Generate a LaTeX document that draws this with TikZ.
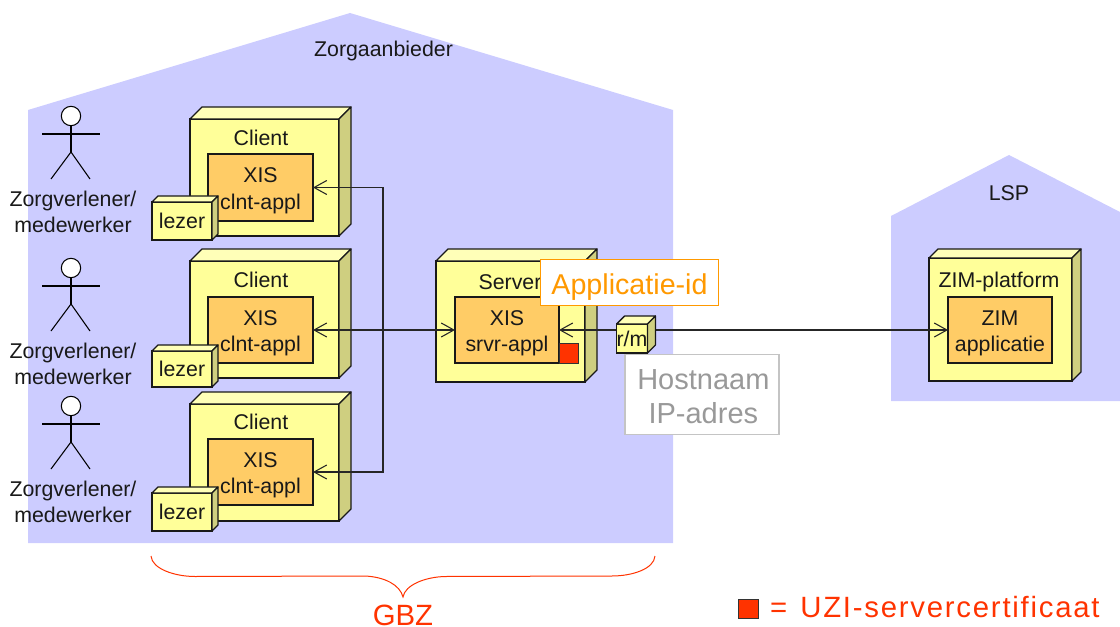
\documentclass[tikz,border=0pt]{standalone}
\usepackage{fontspec}
\setmainfont{Liberation Sans}
\newfontfamily\spacedfont[LetterSpace=6]{Liberation Sans}
\usetikzlibrary{calc,arrows.meta}
\definecolor{house}{HTML}{CCCCFF}
\definecolor{nodefill}{HTML}{FFFF99}
\definecolor{nodetop}{HTML}{FFFFB8}
\definecolor{nodeside}{HTML}{CFCF80}
\definecolor{appfill}{HTML}{FFCC66}
\definecolor{certred}{HTML}{FF3300}
\definecolor{idorange}{HTML}{FF9900}
\definecolor{hostgray}{HTML}{999999}
\definecolor{hostline}{HTML}{C4C4C4}
\newcommand{\drop}[1]{\rule{0pt}{#1}}
\tikzset{
  x=0.75pt,y=-0.75pt,
  every node/.style={inner sep=0pt,outer sep=0pt,align=center},
  body/.style={font=\fontsize{16}{20}\selectfont,text=black!90},
  housebox/.style={fill=house,draw=none},
  frontface/.style={draw=black!90,line width=0.95pt,fill=nodefill,body},
  topface/.style={draw=black!90,line width=0.95pt,fill=nodetop,line join=round},
  sideface/.style={draw=black!90,line width=0.95pt,fill=nodeside,line join=round},
  appbox/.style={draw=black!90,line width=0.95pt,fill=appfill,body},
  link/.style={draw=black!85,line width=0.95pt},
  openbarb/.tip={Straight Barb[length=9.5pt,width=10.5pt,line width=0.8pt]},
  actorline/.style={draw=black,line width=0.8pt},
  idbox/.style={draw=idorange,fill=white,line width=0.9pt,text=idorange,font=\fontsize{21.5}{26}\selectfont},
  hostbox/.style={draw=hostline,fill=white,line width=0.9pt,text=hostgray,font=\fontsize{21.75}{25}\selectfont},
  certbox/.style={fill=certred,draw=black!80,line width=0.7pt},
  redtext/.style={text=certred,font=\fontsize{22}{26}\selectfont},
  bracket/.style={draw=certred,line width=0.75pt}
}
% name, x1, y1, x2, y2, depth, text
\newcommand{\cubebox}[7]{%
  \pgfmathsetmacro{\cw}{(#4-#2)*0.75}%
  \pgfmathsetmacro{\ch}{(#5-#3)*0.75}%
  \node[frontface,minimum width=\cw pt,minimum height=\ch pt] (#1) at ({(#2+#4)/2},{(#3+#5)/2}) {#7};
  \draw[topface] (#1.north west) -- ($(#1.north west)+(#6,-#6)$) -- ($(#1.north east)+(#6,-#6)$) -- (#1.north east) -- cycle;
  \draw[sideface] (#1.north east) -- ($(#1.north east)+(#6,-#6)$) -- ($(#1.south east)+(#6,-#6)$) -- (#1.south east) -- cycle;
}
% name, x1, y1, x2, y2, text
\newcommand{\appbox}[6]{%
  \pgfmathsetmacro{\cw}{(#4-#2)*0.75}%
  \pgfmathsetmacro{\ch}{(#5-#3)*0.75}%
  \node[appbox,minimum width=\cw pt,minimum height=\ch pt] (#1) at ({(#2+#4)/2},{(#3+#5)/2}) {\drop{16pt}#6};
}
% name, head-centre y
\newcommand{\actor}[2]{%
  \node[draw=black,fill=white,line width=0.8pt,circle,minimum size=14.5pt] (#1) at (71,#2) {};
  \coordinate (#1hip) at (71,#2+36);
  \coordinate (#1arm) at (71,#2+18);
  \draw[actorline] (#1.south) -- (#1hip);
  \draw[actorline] ($(#1arm)+(-29,0)$) -- ($(#1arm)+(29,0)$);
  \draw[actorline] ($(#1hip)+(-20,27)$) -- (#1hip) -- ($(#1hip)+(19,27)$);
}
\begin{document}
\begin{tikzpicture}
\useasboundingbox (0,0) rectangle (1120,627);
% houses
\path[housebox] (28,110) -- (350,13) -- (673,110) -- (673,543) -- (28,543) -- cycle;
\path[housebox] (891,216) -- (1009,155) -- (1120,212) -- (1120,401) -- (891,401) -- cycle;
\node[body] (zorg) at (383.5,51) {Zorgaanbieder};
\node[body] (lsp) at (1009,193) {LSP};
% actors
\actor{a1}{116}
\actor{a2}{268}
\actor{a3}{406}
\node[body] (a1t) at (73,212) {Zorgverlener/\\medewerker};
\node[body] (a2t) at (73,364) {Zorgverlener/\\medewerker};
\node[body] (a3t) at (73,502) {Zorgverlener/\\medewerker};
% clients
\cubebox{c1}{190}{119}{339}{236}{12}{}
\node[body] (c1t) at (261,138) {Client};
\appbox{c1a}{208}{154}{313}{221}{XIS\\clnt-appl}
\cubebox{l1}{152}{202}{212}{240}{6}{lezer}
\cubebox{c2}{190}{261}{339}{378}{12}{}
\node[body] (c2t) at (261,280) {Client};
\appbox{c2a}{208}{297}{313}{363}{XIS\\clnt-appl}
\cubebox{l2}{152}{351}{212}{387}{6}{lezer}
\cubebox{c3}{190}{404}{339}{521}{12}{}
\node[body] (c3t) at (261,422) {Client};
\appbox{c3a}{208}{439}{313}{505}{XIS\\clnt-appl}
\cubebox{l3}{152}{493}{212}{531}{6}{lezer}
% server
\cubebox{s}{436}{261}{585}{382}{12}{}
\node[body] (st) at (510,282) {Server};
\appbox{sa}{455}{297}{559}{363}{XIS\\srvr-appl}
\node[certbox,minimum size=14.5pt] (cert) at (569,353.5) {};
% ZIM
\cubebox{z}{929}{258}{1072}{381}{9}{}
\node[body] (zt) at (999,282) {ZIM-platform};
\appbox{za}{948}{297}{1052}{363}{ZIM\\applicatie}
% connectors
\coordinate (hub) at (383,330);
\draw[link,-{openbarb}] (hub) |- (c1a.east);
\draw[link,-{openbarb}] (hub) |- (c3a.east);
\draw[link,{openbarb}-{openbarb}] (c2a.east) -- (sa.west);
\draw[link,{openbarb}-{openbarb}] (sa.east) -- (za.west);
% router
\cubebox{rm}{617}{324}{647}{353}{8}{r/m}
% annotation boxes
\node[idbox,minimum width=134pt,minimum height=35pt] (appid) at (629.5,282.5) {\drop{22pt}Applicatie-id};
\node[hostbox,minimum width=115.5pt,minimum height=60.5pt] (host) at (702,394.5) {\drop{18pt}\hspace*{2pt}Hostnaam\\\hspace*{2pt}IP-adres};
% brace
\draw[bracket] (151,556) .. controls (152,569) and (175,576.5) .. (195,576.5) -- (365,576) .. controls (385,577) and (400,585) .. (403,597) .. controls (405,585) and (425,577) .. (445,576.5) -- (612,576) .. controls (632,576) and (654,569) .. (655,556);
\node[redtext] (gbz) at (403,615) {GBZ};
% legend
\node[certbox,minimum size=14.5pt] (key) at (748.5,609) {};
\node[redtext,anchor=west,font=\fontsize{22}{26}\spacedfont] (keyt) at (770,607) {=\hspace{2.5pt} UZI-servercertificaat};
\end{tikzpicture}
\end{document}
